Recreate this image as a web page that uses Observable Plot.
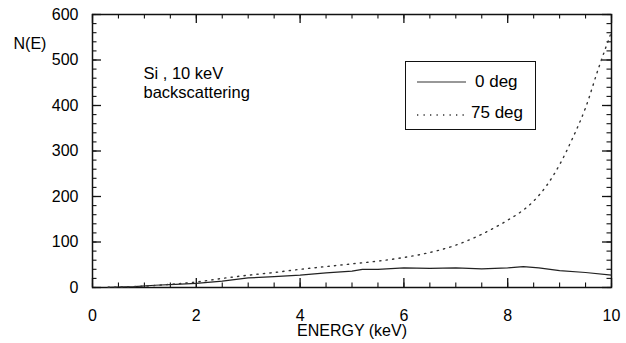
<!DOCTYPE html>
<html>
<head>
<meta charset="utf-8">
<script src="https://cdn.jsdelivr.net/npm/d3@7"></script>
<script src="https://cdn.jsdelivr.net/npm/@observablehq/plot@0.6"></script>
<style>
  html, body { margin: 0; padding: 0; background: #fff; }
  #wrap { position: relative; width: 626px; height: 343px; font-family: "Liberation Sans", Arial, sans-serif; }
  #legend { position: absolute; left: 405px; top: 61px; width: 129px; height: 67px; border: 1.4px solid #111; background: #fff; }
  #legend .row { position: absolute; left: 0; height: 20px; display: flex; align-items: center; font-size: 17px; color: #000; }
  #legend svg { display: block; }
</style>
</head>
<body>
<div id="wrap"></div>
<script>
// Data
const energy0 = [0.3, 0.8, 1.2, 1.6, 2.0, 2.5, 3.0, 3.5, 4.0, 4.5, 5.0, 5.2, 5.5, 6.0, 6.5, 7.0, 7.5, 8.0, 8.3, 8.6, 9.0, 9.5, 10.0];
const n0      = [0.5, 2, 5, 7, 9, 14, 21, 24, 27, 32, 36, 40, 40, 43, 42, 43, 41, 43, 46, 43, 37, 33, 27];

const energy75 = [0.3, 1.0, 1.5, 2.0, 2.5, 3.0, 3.5, 4.0, 4.5, 5.0, 5.5, 6.0, 6.5, 7.0, 7.5, 8.0, 8.25, 8.5, 8.75, 9.0, 9.25, 9.5, 9.75, 10.0];
const n75      = [0.5, 3, 7, 12, 20, 27, 33, 40, 46, 52, 58, 66, 77, 93, 117, 148, 166, 190, 224, 270, 328, 395, 482, 562];

const seriesNames = ["0 deg", "75 deg"];
const xMajorTicks = [0, 2, 4, 6, 8, 10];
const xMinorTicks = d3.range(0, 10.01, 0.5);
const yMajorTicks = [0, 100, 200, 300, 400, 500, 600];
const yMinorTicks = d3.range(0, 600.1, 20);
const annotationLines = ["Si , 10 keV", "backscattering"];
const yLabel = "N(E)";
const xLabel = "ENERGY (keV)";

const data0 = energy0.map((e, i) => ({energy: e, n: n0[i]}));
const data75 = energy75.map((e, i) => ({energy: e, n: n75[i]}));

const W = 626, H = 343;
const mL = 92, mR = 15, mT = 14, mB = 56;
const pw = W - mL - mR, ph = H - mT - mB;
const major = 9, minor = 4.5;
const font = "Liberation Sans, Arial, sans-serif";

const chart = Plot.plot({
  width: W, height: H,
  marginLeft: mL, marginRight: mR, marginTop: mT, marginBottom: mB,
  style: {fontFamily: font, fontSize: "16px", color: "#000", background: "#fff"},
  x: {domain: [0, 10]},
  y: {domain: [0, 600]},
  marks: [
    Plot.axisX(xMajorTicks, {tickSize: 0, tickPadding: 22, fontSize: 16, label: null}),
    Plot.axisY(yMajorTicks, {tickSize: 0, tickPadding: 14, fontSize: 16, label: null}),
    // inward ticks: bottom & top
    Plot.tickX(xMinorTicks, {x: d => d, insetTop: ph - minor, stroke: "#111", strokeWidth: 1.1}),
    Plot.tickX(xMajorTicks, {x: d => d, insetTop: ph - major, stroke: "#111", strokeWidth: 1.3}),
    Plot.tickX(xMinorTicks, {x: d => d, insetBottom: ph - minor, stroke: "#111", strokeWidth: 1.1}),
    Plot.tickX(xMajorTicks, {x: d => d, insetBottom: ph - major, stroke: "#111", strokeWidth: 1.3}),
    // inward ticks: left & right
    Plot.tickY(yMinorTicks, {y: d => d, insetRight: pw - minor, stroke: "#111", strokeWidth: 1.1}),
    Plot.tickY(yMajorTicks, {y: d => d, insetRight: pw - major, stroke: "#111", strokeWidth: 1.3}),
    Plot.tickY(yMinorTicks, {y: d => d, insetLeft: pw - minor, stroke: "#111", strokeWidth: 1.1}),
    Plot.tickY(yMajorTicks, {y: d => d, insetLeft: pw - major, stroke: "#111", strokeWidth: 1.3}),
    Plot.frame({stroke: "#111", strokeWidth: 1.5}),
    // curves
    Plot.line(data0, {x: "energy", y: "n", stroke: "#222", strokeWidth: 1.2}),
    Plot.line(data75, {x: "energy", y: "n", stroke: "#333", strokeWidth: 1.4, strokeDasharray: "1.3,5.2", curve: "monotone-x"}),
    // text annotations
    Plot.text([annotationLines[0]], {frameAnchor: "top-left", text: d => d, textAnchor: "start", lineAnchor: "top", dx: 51, dy: 53, fontSize: 16.5, fill: "#000"}),
    Plot.text([annotationLines[1]], {frameAnchor: "top-left", text: d => d, textAnchor: "start", lineAnchor: "top", dx: 51, dy: 72, fontSize: 16.5, fill: "#000"}),
    Plot.text([yLabel], {frameAnchor: "top-left", text: d => d, textAnchor: "start", lineAnchor: "top", dx: -79, dy: 23, fontSize: 16, fill: "#000"}),
    Plot.text([xLabel], {frameAnchor: "bottom", text: d => d, lineAnchor: "top", dy: 37, fontSize: 16, fill: "#000"})
  ]
});

const wrap = document.getElementById("wrap");
wrap.appendChild(chart);

// legend
const legend = document.createElement("div");
legend.id = "legend";
const rows = [
  {name: seriesNames[0], dash: null, top: 10, textLeft: 69},
  {name: seriesNames[1], dash: "1.3,5.2", top: 41, textLeft: 65}
];
rows.forEach(r => {
  const row = document.createElement("div");
  row.className = "row";
  row.style.top = r.top + "px";
  row.style.width = "129px";
  const s = d3.create("svg").attr("width", 50).attr("height", 20)
    .style("position", "absolute").style("left", "11px").style("top", "0px");
  s.append("line").attr("x1", 0).attr("x2", 49).attr("y1", r.dash ? 12 : 10).attr("y2", r.dash ? 12 : 10)
    .attr("stroke", "#333").attr("stroke-width", r.dash ? 1.4 : 1.2)
    .attr("stroke-dasharray", r.dash);
  row.appendChild(s.node());
  const t = document.createElement("span");
  t.textContent = r.name;
  t.style.position = "absolute";
  t.style.left = r.textLeft + "px";
  t.style.whiteSpace = "nowrap";
  row.appendChild(t);
  legend.appendChild(row);
});
wrap.appendChild(legend);
</script>
</body>
</html>
